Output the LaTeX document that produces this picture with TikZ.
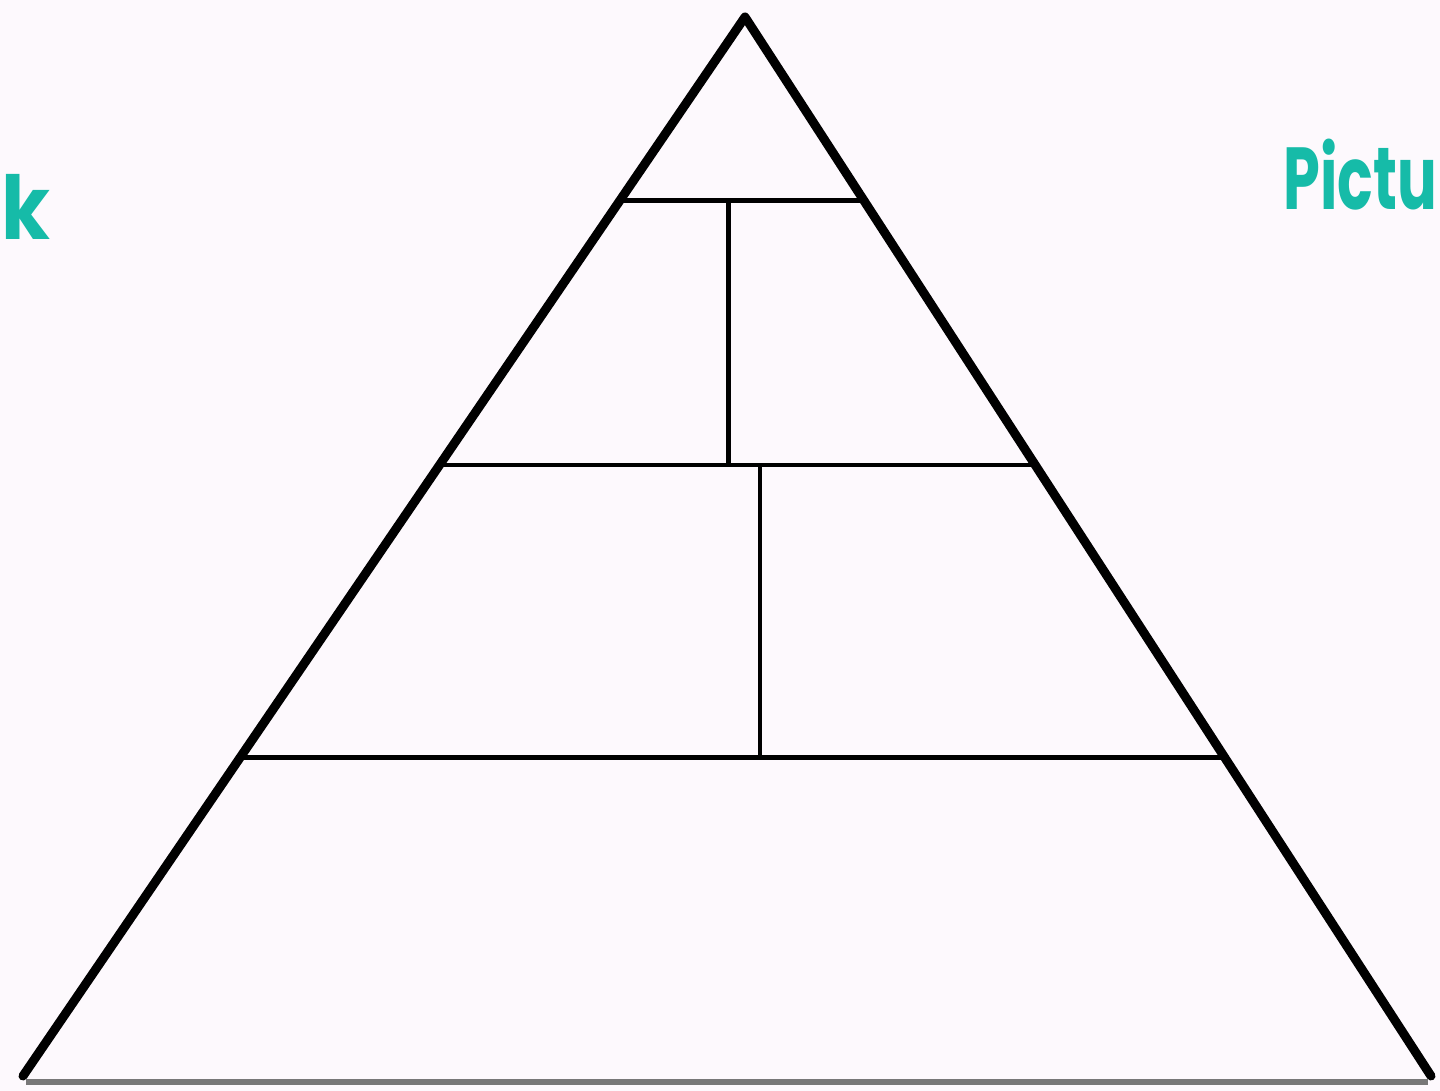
\documentclass[tikz,border=0pt]{standalone}
\usepackage{fontspec}
\setmainfont{Poppins}
\usetikzlibrary{calc}
\definecolor{bgpink}{RGB}{253,249,253}
\definecolor{teal}{RGB}{22,187,168}
\definecolor{edgegray}{RGB}{120,120,120}
\begin{document}
\begin{tikzpicture}[x=1pt,y=-1pt,
  outer/.style={line width=9pt,black,line cap=round,line join=round},
  inner/.style={line width=4.5pt,black},
  base/.style={line width=6pt,edgegray},
  word/.style={font=\fontsize{88}{88}\selectfont\bfseries,text=teal,inner sep=0pt}]
\fill[bgpink] (0,0) rectangle (1440,1091);
\useasboundingbox (0,0) rectangle (1440,1091);
\coordinate (apex) at (745,17);
\coordinate (bl) at (23,1076);
\coordinate (br) at (1431,1076);
\coordinate (l1) at ($(apex)!0.1735!(bl)$);
\coordinate (r1) at ($(apex)!0.1735!(br)$);
\coordinate (l2) at ($(apex)!0.4232!(bl)$);
\coordinate (r2) at ($(apex)!0.4232!(br)$);
\coordinate (l3) at ($(apex)!0.699!(bl)$);
\coordinate (r3) at ($(apex)!0.699!(br)$);
\coordinate (v1t) at (728.5,200);
\coordinate (v1b) at (728.5,465);
\coordinate (v2t) at (760,465);
\coordinate (v2b) at (760,757);
\coordinate (bls) at (26,1082);
\coordinate (brs) at (1428,1082);
\draw[base] (bls) -- (brs);
\draw[inner] (l1) -- (r1);
\draw[inner] (l2) -- (r2);
\draw[inner] (l3) -- (r3);
\draw[inner] (v1t) -- (v1b);
\draw[inner] (v2t) -- (v2b);
\draw[outer] (bl) -- (apex) -- (br);
\node[word,anchor=base west] (kword) at (1,240) {\scalebox{0.9}[1]{k}};
\node[word,anchor=base east] (pword) at (1437,210) {\scalebox{0.67}[1]{Pictu}};
\end{tikzpicture}
\end{document}
